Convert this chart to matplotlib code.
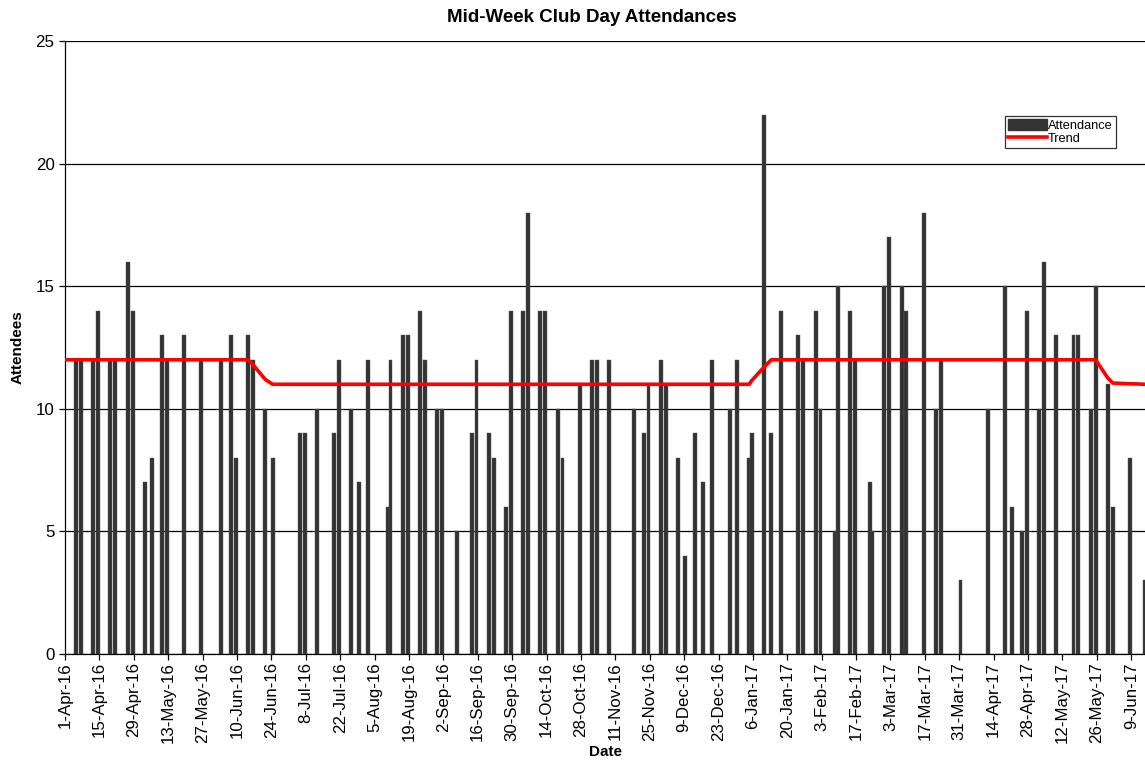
import numpy as np
import pandas as pd
import matplotlib
matplotlib.use("Agg")
from matplotlib import pyplot as plt
import matplotlib.dates as mdates
from matplotlib.patches import Patch
from matplotlib.lines import Line2D

plt.rcParams['font.family'] = ['Liberation Sans', 'DejaVu Sans']

# club days and attendance
dates = ['2016-04-05', '2016-04-07', '2016-04-12', '2016-04-14', '2016-04-19', '2016-04-21',
         '2016-04-26', '2016-04-28', '2016-05-03', '2016-05-06', '2016-05-10', '2016-05-12',
         '2016-05-19', '2016-05-26', '2016-06-03', '2016-06-07', '2016-06-09', '2016-06-14',
         '2016-06-16', '2016-06-21', '2016-06-24', '2016-07-05', '2016-07-07', '2016-07-12',
         '2016-07-19', '2016-07-21', '2016-07-26', '2016-07-29', '2016-08-02', '2016-08-10',
         '2016-08-11', '2016-08-16', '2016-08-18', '2016-08-23', '2016-08-25', '2016-08-30',
         '2016-09-01', '2016-09-07', '2016-09-13', '2016-09-15', '2016-09-20', '2016-09-22',
         '2016-09-27', '2016-09-29', '2016-10-04', '2016-10-06', '2016-10-11', '2016-10-13',
         '2016-10-18', '2016-10-20', '2016-10-27', '2016-11-01', '2016-11-03', '2016-11-08',
         '2016-11-18', '2016-11-22', '2016-11-24', '2016-11-29', '2016-12-01', '2016-12-06',
         '2016-12-09', '2016-12-13', '2016-12-16', '2016-12-20', '2016-12-27', '2016-12-30',
         '2017-01-04', '2017-01-05', '2017-01-10', '2017-01-13', '2017-01-17', '2017-01-24',
         '2017-01-26', '2017-01-31', '2017-02-02', '2017-02-08', '2017-02-09', '2017-02-14',
         '2017-02-16', '2017-02-22', '2017-02-23', '2017-02-28', '2017-03-02', '2017-03-07',
         '2017-03-09', '2017-03-16', '2017-03-21', '2017-03-23', '2017-03-31', '2017-04-11',
         '2017-04-18', '2017-04-21', '2017-04-25', '2017-04-27', '2017-05-02', '2017-05-04',
         '2017-05-09', '2017-05-16', '2017-05-18', '2017-05-23', '2017-05-25', '2017-05-30',
         '2017-06-01', '2017-06-08', '2017-06-14']
attendance = [12, 12, 12, 14, 12, 12,
              16, 14, 7, 8, 13, 12,
              13, 12, 12, 13, 8, 13,
              12, 10, 8, 9, 9, 10,
              9, 12, 10, 7, 12, 6,
              12, 13, 13, 14, 12, 10,
              10, 5, 9, 12, 9, 8,
              6, 14, 14, 18, 14, 14,
              10, 8, 11, 12, 12, 12,
              10, 9, 11, 12, 11, 8,
              4, 9, 7, 12, 10, 12,
              8, 9, 22, 9, 14, 13,
              12, 14, 10, 5, 15, 14,
              12, 7, 5, 15, 17, 15,
              14, 18, 10, 12, 3, 10,
              15, 6, 5, 14, 10, 16,
              13, 13, 13, 10, 15, 11,
              6, 8, 3]

trend_dates = ['2016-04-01', '2016-06-14', '2016-06-16', '2016-06-21', '2016-06-24',
               '2017-01-04', '2017-01-05', '2017-01-10', '2017-01-13',
               '2017-05-25', '2017-05-30', '2017-06-01', '2017-06-14']
trend = [12, 12, 11.8, 11.2, 11,
         11, 11.15, 11.7, 12,
         12, 11.25, 11.05, 11]

x = mdates.date2num(pd.to_datetime(dates)) + 0.5
xt = mdates.date2num(pd.to_datetime(trend_dates)) + 0.5
start = mdates.date2num(pd.Timestamp('2016-04-01'))

fig = plt.figure(figsize=(11.45, 7.6), dpi=100)
ax = fig.add_axes([65/1145, 1-654/760, 1081/1145, 613/760])

ax.set_axisbelow(True)
ax.grid(axis='y', color='black', lw=0.9)
ax.bar(x, attendance, width=1.6, color='#333333', edgecolor='#555555', lw=0.3, zorder=2)
ax.plot(xt, trend, color='#ff0000', lw=2.6, zorder=3, solid_joinstyle='round')

ax.set_xlim(start, start + 440)
ax.set_ylim(0, 25)
ax.set_yticks([0, 5, 10, 15, 20, 25])
ticks = pd.date_range('2016-04-01', '2017-06-09', freq='14D')
ax.set_xticks(mdates.date2num(ticks))
ax.set_xticklabels([f"{d.day}-{d:%b-%y}" for d in ticks], rotation=90)
ax.tick_params(axis='both', labelsize=12.2, length=4, width=0.9, color='black')
ax.tick_params(axis='x', pad=2)
for s in ['top', 'right']:
    ax.spines[s].set_visible(False)
for s in ['left', 'bottom']:
    ax.spines[s].set_color('black')
    ax.spines[s].set_linewidth(0.9)

fig.text(592/1145, 1-18/760, 'Mid-Week Club Day Attendances', ha='center', va='center',
         fontsize=13.5, fontweight='bold')
fig.text(18/1145, 1-347/760, 'Attendees', ha='center', va='center', rotation=90,
         fontsize=11, fontweight='bold')
fig.text(606/1145, 1-752/760, 'Date', ha='center', va='center', fontsize=11, fontweight='bold')

handles = [Patch(facecolor='#333333', edgecolor='#333333'),
           Line2D([0], [0], color='#ff0000', lw=2.6)]
leg = ax.legend(handles, ['Attendance', 'Trend'], loc='upper left',
                bbox_to_anchor=((1005-65)/1081, (654-116)/613), fontsize=9.2,
                frameon=True, fancybox=False, edgecolor='black', borderpad=0.25,
                handlelength=3.0, handleheight=0.9, handletextpad=0.1, labelspacing=0.05,
                borderaxespad=0)
leg.get_frame().set_linewidth(0.9)

fig.savefig('out.png', dpi=100)
